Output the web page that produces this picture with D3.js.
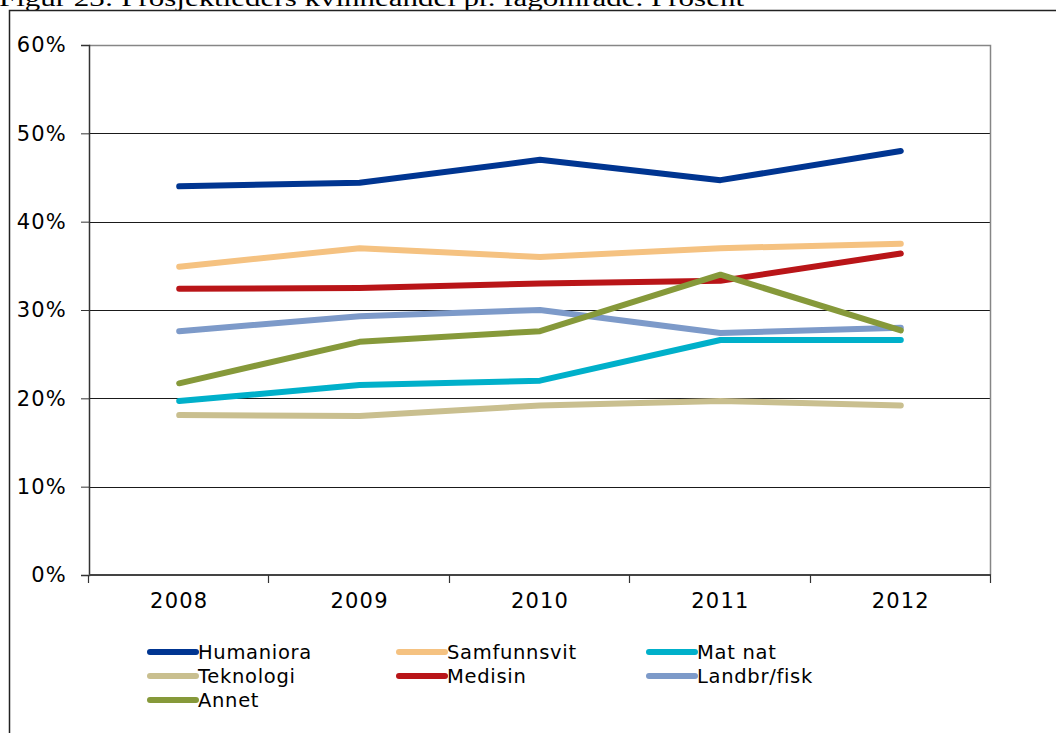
<!DOCTYPE html>
<html>
<head>
<meta charset="utf-8">
<script src="https://cdn.jsdelivr.net/npm/d3@7"></script>
<style>
  body { margin: 0; background: #fff; }
  text { font-family: 'DejaVu Sans', Verdana, sans-serif; }
</style>
</head>
<body>
<div id="chart"></div>
<script>
// data
var years = ['2008', '2009', '2010', '2011', '2012']
var yTicks = [0, 10, 20, 30, 40, 50, 60]
var seriesNames = ['Humaniora', 'Samfunnsvit', 'Mat nat', 'Teknologi', 'Medisin', 'Landbr/fisk', 'Annet']
var seriesColors = ['#003591', '#f5c281', '#00b0ca', '#c9bf8f', '#b91518', '#7d9ac9', '#86993a']
var humaniora = [44.0, 44.4, 47.0, 44.7, 48.0]
var samfunnsvit = [34.9, 37.0, 36.0, 37.0, 37.5]
var matNat = [19.7, 21.5, 22.0, 26.6, 26.6]
var teknologi = [18.1, 18.0, 19.2, 19.7, 19.2]
var medisin = [32.4, 32.5, 33.0, 33.3, 36.4]
var landbr = [27.6, 29.3, 30.0, 27.4, 28.0]
var annet = [21.7, 26.4, 27.6, 34.0, 27.7]
var seriesValues = [humaniora, samfunnsvit, matNat, teknologi, medisin, landbr, annet]

// drawing order (last on top)
var drawOrder = [3, 2, 5, 1, 4, 6, 0]

var width = 1056
var height = 733
var margin = { top: 45, left: 89, right: 65, bottom: 158 }
var chartWidth = width - margin.left - margin.right
var chartHeight = height - margin.top - margin.bottom

var svg = d3.select('#chart').append('svg')
    .attr('width', width)
    .attr('height', height)

// title, cut off at the top like in the source page
svg.append('text')
    .attr('x', -1)
    .attr('y', 6)
    .attr('textLength', 745)
    .attr('lengthAdjust', 'spacingAndGlyphs')
    .style('font-family', "'Liberation Serif', 'Times New Roman', serif")
    .style('font-size', '24px')
    .text('Figur 23: Prosjektleders kvinneandel pr. fagområde. Prosent')

// outer frame
svg.append('path')
    .attr('d', 'M9.5,733 V10.5 H1056')
    .attr('fill', 'none')
    .attr('stroke', '#222')
    .attr('stroke-width', 1.5)

var chartGroup = svg.append('g')
    .attr('transform', `translate(${margin.left}, ${margin.top})`)

var xScale = d3.scaleBand()
    .domain(years)
    .range([0, chartWidth])

var yScale = d3.scaleLinear()
    .domain([0, 60])
    .range([chartHeight, 0])

// gridlines
chartGroup.selectAll('.grid')
    .data(yTicks.filter(d => d > 0 && d < 60))
    .enter()
    .append('line')
    .attr('x1', 0)
    .attr('x2', chartWidth)
    .attr('y1', d => Math.round(yScale(d)) + 0.5)
    .attr('y2', d => Math.round(yScale(d)) + 0.5)
    .attr('stroke', '#1a1a1a')
    .attr('stroke-width', 1.2)

// plot area border (top, right)
chartGroup.append('path')
    .attr('d', `M0,0.5 H${chartWidth - 0.5} V${chartHeight}`)
    .attr('fill', 'none')
    .attr('stroke', '#868686')
    .attr('stroke-width', 1.5)

// y axis
var yAxis = d3.axisLeft(yScale)
    .tickValues(yTicks)
    .tickSize(8)
    .tickPadding(14)
    .tickFormat(d => d + '%')

var yAxisG = chartGroup.append('g').call(yAxis)
yAxisG.select('.domain').attr('stroke', '#333').attr('stroke-width', 1.5)
yAxisG.selectAll('.tick line').attr('stroke', '#333')
yAxisG.selectAll('text')
    .style('font-size', '21px')
    .style('letter-spacing', '1.2px')
    .attr('fill', '#000')

// x axis
var xAxis = d3.axisBottom(xScale)
    .tickSize(0)
    .tickPadding(18)

var xAxisG = chartGroup.append('g')
    .attr('transform', `translate(0, ${chartHeight})`)
    .call(xAxis)
xAxisG.select('.domain').remove()
xAxisG.selectAll('text')
    .style('font-size', '21px')
    .style('letter-spacing', '1.2px')
    .attr('fill', '#000')

// x axis line and band ticks
chartGroup.append('line')
    .attr('x1', 0)
    .attr('x2', chartWidth)
    .attr('y1', chartHeight)
    .attr('y2', chartHeight)
    .attr('stroke', '#444')
    .attr('stroke-width', 2)

var bandEdges = years.map(d => xScale(d)).concat([chartWidth])
chartGroup.selectAll('.xtick')
    .data(bandEdges)
    .enter()
    .append('line')
    .attr('x1', d => Math.round(d) - 0.5)
    .attr('x2', d => Math.round(d) - 0.5)
    .attr('y1', chartHeight)
    .attr('y2', chartHeight + 8)
    .attr('stroke', '#333')
    .attr('stroke-width', 1.2)

// lines
var line = d3.line()
    .x((d, i) => xScale(years[i]) + xScale.bandwidth() / 2)
    .y(d => yScale(d))

chartGroup.selectAll('.series')
    .data(drawOrder)
    .enter()
    .append('path')
    .attr('d', i => line(seriesValues[i]))
    .attr('fill', 'none')
    .attr('stroke', i => seriesColors[i])
    .attr('stroke-width', 6)
    .attr('stroke-linecap', 'round')
    .attr('stroke-linejoin', 'round')

// legend
var legendCols = [148, 397, 647]
var legendRows = [652, 676, 700]
var legend = svg.selectAll('.legend')
    .data(seriesNames)
    .enter()
    .append('g')
    .attr('transform', (d, i) => `translate(${legendCols[i % 3]}, ${legendRows[Math.floor(i / 3)]})`)

legend.append('line')
    .attr('x1', 2)
    .attr('x2', 48)
    .attr('y1', 0)
    .attr('y2', 0)
    .attr('stroke', (d, i) => seriesColors[i])
    .attr('stroke-width', 6)
    .attr('stroke-linecap', 'round')

legend.append('text')
    .attr('x', 50)
    .attr('y', 7)
    .style('font-size', '19.5px')
    .style('letter-spacing', '0.7px')
    .text(d => d)
</script>
</body>
</html>
